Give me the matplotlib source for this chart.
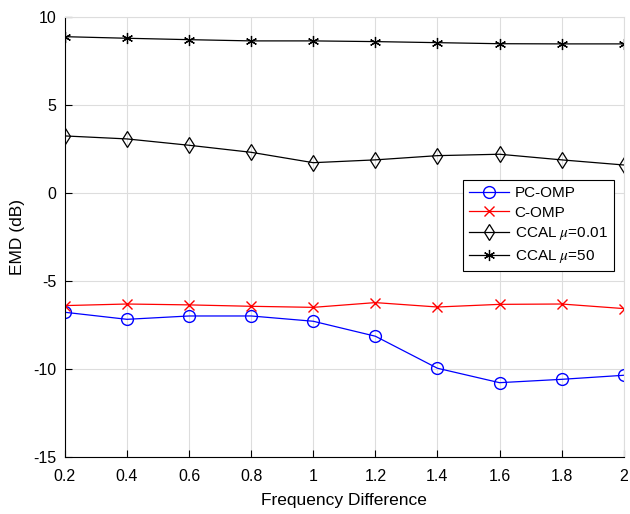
import matplotlib
matplotlib.use('Agg')
import matplotlib.pyplot as plt

plt.rcParams['font.family'] = ['Liberation Sans', 'DejaVu Sans']
plt.rcParams['mathtext.fontset'] = 'stix'
plt.rcParams['axes.unicode_minus'] = False

# frequency difference
freq = [0.2, 0.4, 0.6, 0.8, 1.0, 1.2, 1.4, 1.6, 1.8, 2.0]

# EMD values (dB)
pc_omp = [-6.78, -7.18, -6.99, -6.99, -7.29, -8.14, -9.96, -10.78, -10.59, -10.36]
c_omp = [-6.40, -6.31, -6.36, -6.44, -6.50, -6.23, -6.48, -6.33, -6.31, -6.57]
ccal_001 = [3.24, 3.07, 2.71, 2.31, 1.72, 1.88, 2.12, 2.20, 1.88, 1.59]
ccal_50 = [8.88, 8.79, 8.71, 8.64, 8.64, 8.60, 8.54, 8.48, 8.47, 8.47]

fig = plt.figure(figsize=(6.3, 5.14), dpi=100)
ax = fig.add_axes([0.103, 0.111, 0.887, 0.856])

ax.plot(freq, pc_omp, color='b', lw=0.9, marker='o', ms=8.5, mfc='none', mew=1.0, label='PC-OMP')
ax.plot(freq, c_omp, color='r', lw=0.9, marker='x', ms=6.5, mew=1.0, label='C-OMP')
ax.plot(freq, ccal_001, color='k', lw=0.9, marker='d', ms=8.5, mfc='none', mew=0.9,
        label=r'CCAL $\mu$=0.01')
ax.plot(freq, ccal_50, color='k', lw=0.9, marker=(6, 2, 0), ms=8, mew=0.9,
        label=r'CCAL $\mu$=50')

ax.set_xlim(0.2, 2)
ax.set_ylim(-15, 10)
ax.set_xticks(freq)
ax.set_xticklabels(['0.2', '0.4', '0.6', '0.8', '1', '1.2', '1.4', '1.6', '1.8', '2'])
ax.set_yticks([-15, -10, -5, 0, 5, 10])
ax.grid(True, color='#dddddd', lw=0.8)
ax.set_axisbelow(True)
ax.tick_params(direction='in', length=5, labelsize=11.5, width=0.8)
ax.tick_params(axis='x', pad=9)
ax.tick_params(axis='y', pad=6)
for s in ['top', 'right']:
    ax.spines[s].set_color('#dddddd')
for s in ['left', 'bottom']:
    ax.spines[s].set_linewidth(0.8)

ax.set_xlabel('Frequency Difference', fontsize=12.5, labelpad=6)
ax.set_ylabel('EMD (dB)', fontsize=12.5, labelpad=6)

leg = ax.legend(loc='upper right', bbox_to_anchor=(0.982, 0.63), fontsize=11,
                fancybox=False, framealpha=1, edgecolor='k', borderpad=0.4,
                borderaxespad=0, labelspacing=0.38, handlelength=2.6, handletextpad=0.4)
leg.get_frame().set_linewidth(0.8)

fig.savefig('out.png', dpi=100)
